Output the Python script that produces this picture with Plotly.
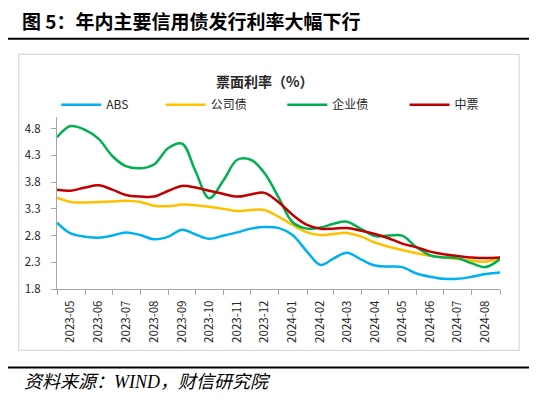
import plotly.graph_objects as go

# semi-monthly observation dates (1st and 16th of each month)
months = ["2023-05", "2023-06", "2023-07", "2023-08", "2023-09", "2023-10",
          "2023-11", "2023-12", "2024-01", "2024-02", "2024-03", "2024-04",
          "2024-05", "2024-06", "2024-07", "2024-08"]
dates = []
for m in months:
    dates += [m + "-01", m + "-16"]
dates.append("2024-09-01")

# coupon rates, %
abs_rate = [3.04, 2.84, 2.78, 2.76, 2.80, 2.86, 2.81, 2.73, 2.78, 2.91, 2.82,
            2.74, 2.80, 2.86, 2.93, 2.96, 2.94, 2.81, 2.50, 2.25, 2.37, 2.48,
            2.35, 2.24, 2.22, 2.21, 2.09, 2.03, 1.99, 1.99, 2.03, 2.08, 2.11]
corp_bond = [3.51, 3.43, 3.42, 3.43, 3.44, 3.45, 3.43, 3.36, 3.35, 3.38, 3.37,
             3.34, 3.30, 3.26, 3.28, 3.28, 3.15, 3.00, 2.86, 2.81, 2.83, 2.85,
             2.78, 2.67, 2.59, 2.53, 2.47, 2.42, 2.39, 2.36, 2.33, 2.31, 2.38]
ent_bond = [4.64, 4.85, 4.78, 4.61, 4.29, 4.10, 4.06, 4.13, 4.44, 4.52, 4.00,
            3.50, 3.84, 4.22, 4.22, 3.97, 3.50, 3.05, 2.93, 2.95, 3.02, 3.06,
            2.92, 2.79, 2.80, 2.80, 2.58, 2.43, 2.39, 2.38, 2.28, 2.21, 2.36]
mtn = [3.66, 3.64, 3.70, 3.74, 3.66, 3.56, 3.53, 3.53, 3.64, 3.73, 3.70,
       3.64, 3.58, 3.53, 3.57, 3.60, 3.42, 3.19, 3.00, 2.93, 2.93, 2.94,
       2.89, 2.83, 2.75, 2.65, 2.58, 2.50, 2.45, 2.42, 2.39, 2.38, 2.39]

series = [("ABS", abs_rate, "#00B0F0"),
          ("公司债", corp_bond, "#FFC000"),
          ("企业债", ent_bond, "#00B050"),
          ("中票", mtn, "#C00000")]

y_ticks = [1.8, 2.3, 2.8, 3.3, 3.8, 4.3, 4.8]

axis_grey = "#a6a6a6"
font_main = "Noto Sans CJK SC"

fig = go.Figure()
legend_ids = ["legend", "legend2", "legend3", "legend4"]
legend_x = [-0.0018, 0.234, 0.5086, 0.7846]
for (name, vals, color), lid in zip(series, legend_ids):
    fig.add_trace(go.Scatter(
        x=dates, y=vals, name=name, mode="lines", legend=lid,
        line=dict(color=color, width=2.5, shape="spline", smoothing=1.0),
    ))

legend_style = dict(y=1.071, yanchor="middle", xanchor="left",
                    orientation="h", itemwidth=40,
                    font=dict(size=12, color="#262626", family=font_main),
                    bgcolor="rgba(0,0,0,0)")

fig.update_layout(
    width=537, height=402,
    margin=dict(l=49.3, r=44.5, t=109, b=121),
    paper_bgcolor="white", plot_bgcolor="white",
    font=dict(family=font_main, color="#262626", size=11.5),
    showlegend=True,
    xaxis=dict(
        type="date", range=["2023-05-01", "2024-09-01"],
        tickvals=[m + "-16" for m in months], ticktext=months,
        tickangle=-90, ticks="", ticklabelstandoff=6,
        showline=True, linecolor=axis_grey, linewidth=1, showgrid=False,
        minor=dict(tickvals=[m + "-01" for m in months] + ["2024-09-01"],
                   ticks="outside", ticklen=5, tickcolor=axis_grey),
        tickfont=dict(size=11.5, color="#262626"),
    ),
    yaxis=dict(
        range=[1.8, 5.02], tickvals=y_ticks, ticktext=[f"{v:.1f}" for v in y_ticks],
        ticks="outside", ticklen=5, tickcolor=axis_grey, ticklabelstandoff=8,
        showline=True, linecolor=axis_grey, linewidth=1, showgrid=False,
        zeroline=False, tickfont=dict(size=11.5, color="#262626"),
    ),
)
for lid, lx in zip(legend_ids, legend_x):
    fig.update_layout({lid: dict(x=lx, **legend_style)})

# chart frame and report rules
fig.add_shape(type="rect", xref="paper", yref="paper",
              x0=-0.0864, x1=1.0431, y0=-0.357, y1=1.3645,
              line=dict(color="#d9d9d9", width=1.2), layer="below")
fig.add_shape(type="line", xref="paper", yref="paper",
              x0=-0.1121, x1=1.0688, y0=1.4547, y1=1.4547,
              line=dict(color="black", width=2))
fig.add_shape(type="line", xref="paper", yref="paper",
              x0=-0.1121, x1=1.0688, y0=-0.457, y1=-0.457,
              line=dict(color="black", width=2))

fig.add_annotation(text="<b>图 5：年内主要信用债发行利率大幅下行</b>",
                   xref="paper", yref="paper", x=-0.0828, y=1.561,
                   xanchor="left", yanchor="middle", showarrow=False,
                   font=dict(size=19, color="black", family=font_main))
fig.add_annotation(text="<b>票面利率（%）</b>",
                   xref="paper", yref="paper", x=0.4679, y=1.2105,
                   xanchor="center", yanchor="middle", showarrow=False,
                   font=dict(size=14, color="#262626", family=font_main))
fig.add_annotation(text="<i>资料来源：WIND，财信研究院</i>",
                   xref="paper", yref="paper", x=-0.0796, y=-0.5407,
                   xanchor="left", yanchor="middle", showarrow=False,
                   font=dict(size=18, color="black", family="Liberation Serif, " + font_main))

fig.write_html("out.html")
